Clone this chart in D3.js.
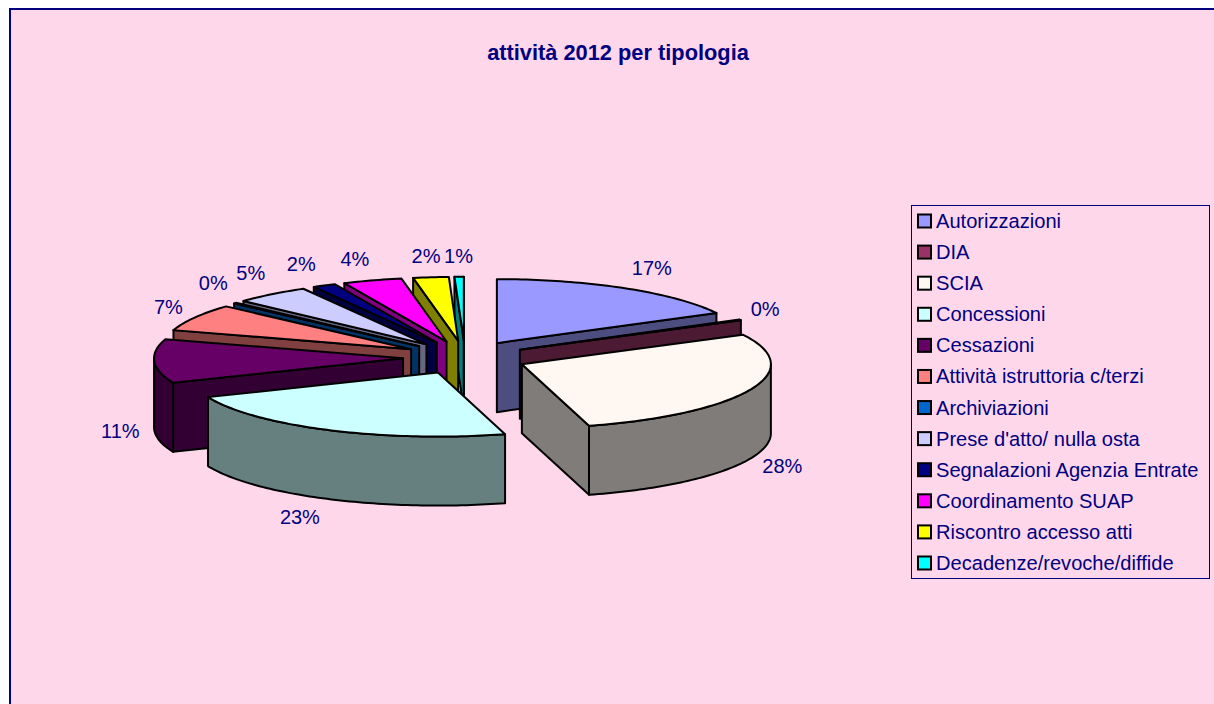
<!DOCTYPE html>
<html>
<head>
<meta charset="utf-8">
<script src="https://cdn.jsdelivr.net/npm/d3@7"></script>
<style>
body { margin: 0; background: #fff; }
text { font-family: "Liberation Sans", Arial, sans-serif; fill: #000080; }
</style>
</head>
<body>
<script>
const categories = ["Autorizzazioni", "DIA", "SCIA", "Concessioni", "Cessazioni", "Attività istruttoria c/terzi",
    "Archiviazioni", "Prese d'atto/ nulla osta", "Segnalazioni Agenzia Entrate", "Coordinamento SUAP",
    "Riscontro accesso atti", "Decadenze/revoche/diffide"];
const values = [17.2, 0.2, 28.3, 23.1, 11.1, 6.85, 0.2, 4.91, 1.5, 3.84, 2.3, 0.6];
const percentLabels = ["17%", "0%", "28%", "23%", "11%", "7%", "0%", "5%", "2%", "4%", "2%", "1%"];
const topColors = ["#9999ff", "#993366", "#fff8f2", "#ccffff", "#660066", "#ff8080",
    "#0066cc", "#ccccff", "#000080", "#ff00ff", "#ffff00", "#00ffff"];

const width = 1214, height = 704;
const cx = 465, cy = 357.5, rx = 249, ry = 64, depth = 69;
const explode = 62, squash = 0.27;

// hand tweak of the percent labels, the original placement is not quite regular
const labelShiftX = [9, -6, 0, -14, 1, 4, 4, 1, -7, -7, -1, 0];
const labelShiftY = [-1, 0, -2, -3, 0, 1, -5, -3, -1, 1, 2, 2];

const svg = d3.select("body").append("svg")
    .attr("width", width)
    .attr("height", height)
    .style("display", "block");

// frame, runs off the right and the bottom
svg.append("rect")
    .attr("x", 10).attr("y", 9)
    .attr("width", width + 10).attr("height", height + 10)
    .attr("fill", "#ffd7ea")
    .attr("stroke", "#000080")
    .attr("stroke-width", 2);

svg.append("text")
    .attr("x", 618).attr("y", 60)
    .attr("text-anchor", "middle")
    .attr("font-size", "21.8px")
    .attr("font-weight", "bold")
    .text("attività 2012 per tipologia");

const pie = d3.pie().sort(null).value(d => d);
const slices = pie(values).map((d, i) => {
    const mid = (d.startAngle + d.endAngle) / 2;
    return {
        i: i,
        a0: d.startAngle,
        a1: d.endAngle,
        mid: mid,
        ox: cx + explode * Math.sin(mid),
        oy: cy - explode * squash * Math.cos(mid)
    };
});

const line = d3.line();
const rimPoint = (s, a, dy) => [s.ox + rx * Math.sin(a), s.oy - ry * Math.cos(a) + dy];
const arcAngles = (a0, a1) => {
    const n = Math.max(2, Math.ceil((a1 - a0) / 0.02));
    return d3.range(n + 1).map(k => a0 + (a1 - a0) * k / n);
};

// back slices first so the front ones paint over them
const g = svg.append("g")
    .attr("stroke", "#000")
    .attr("stroke-width", 2)
    .attr("stroke-linejoin", "round");

slices.slice().sort((p, q) => Math.cos(q.mid) - Math.cos(p.mid)).forEach(s => {
    const top = topColors[s.i];
    const side = d3.color(top);
    const wall = d3.rgb(side.r / 2, side.g / 2, side.b / 2).formatHex();

    // cut faces
    [s.a0, s.a1].forEach((a, k) => {
        const facing = k === 0 ? Math.sin(a) < 0 : Math.sin(a) > 0;
        if (!facing) return;
        const rim = rimPoint(s, a, 0);
        g.append("path")
            .attr("d", line([[s.ox, s.oy], rim, [rim[0], rim[1] + depth], [s.ox, s.oy + depth]]) + "Z")
            .attr("fill", wall);
    });

    // outer wall, only the part that faces the front
    const f0 = Math.max(s.a0, Math.PI / 2), f1 = Math.min(s.a1, Math.PI * 1.5);
    if (f1 > f0) {
        const angles = arcAngles(f0, f1);
        const pts = angles.map(a => rimPoint(s, a, 0))
            .concat(angles.slice().reverse().map(a => rimPoint(s, a, depth)));
        g.append("path").attr("d", line(pts) + "Z").attr("fill", wall);
    }

    const pts = [[s.ox, s.oy]].concat(arcAngles(s.a0, s.a1).map(a => rimPoint(s, a, 0)));
    g.append("path").attr("d", line(pts) + "Z").attr("fill", top);
});

// percent labels follow the slice direction
svg.selectAll(".pct")
    .data(slices)
    .enter().append("text")
    .attr("class", "pct")
    .attr("text-anchor", "middle")
    .attr("font-size", "20px")
    .attr("x", d => d.ox + (rx + 35) * Math.sin(d.mid) + labelShiftX[d.i])
    .attr("y", d => {
        const c = Math.cos(d.mid);
        return d.oy - (ry + 23) * c + (c < 0 ? depth : 0) + 7 + labelShiftY[d.i];
    })
    .text((d, i) => percentLabels[i]);

// legend
const legend = svg.append("g").attr("class", "legend");
legend.append("rect")
    .attr("x", 911.5).attr("y", 205.5)
    .attr("width", 298).attr("height", 373)
    .attr("fill", "none")
    .attr("stroke", "#000080")
    .attr("stroke-width", 1);

const legendY = d3.scalePoint().domain(categories).range([221, 563]);

legend.selectAll("rect.key")
    .data(categories)
    .enter().append("rect")
    .attr("class", "key")
    .attr("x", 918).attr("y", d => legendY(d) - 6.5)
    .attr("width", 13).attr("height", 13)
    .attr("fill", (d, i) => topColors[i])
    .attr("stroke", "#000")
    .attr("stroke-width", 2);

legend.selectAll("text")
    .data(categories)
    .enter().append("text")
    .attr("x", 936).attr("y", d => legendY(d) + 7)
    .attr("font-size", "20.1px")
    .text(d => d);
</script>
</body>
</html>
